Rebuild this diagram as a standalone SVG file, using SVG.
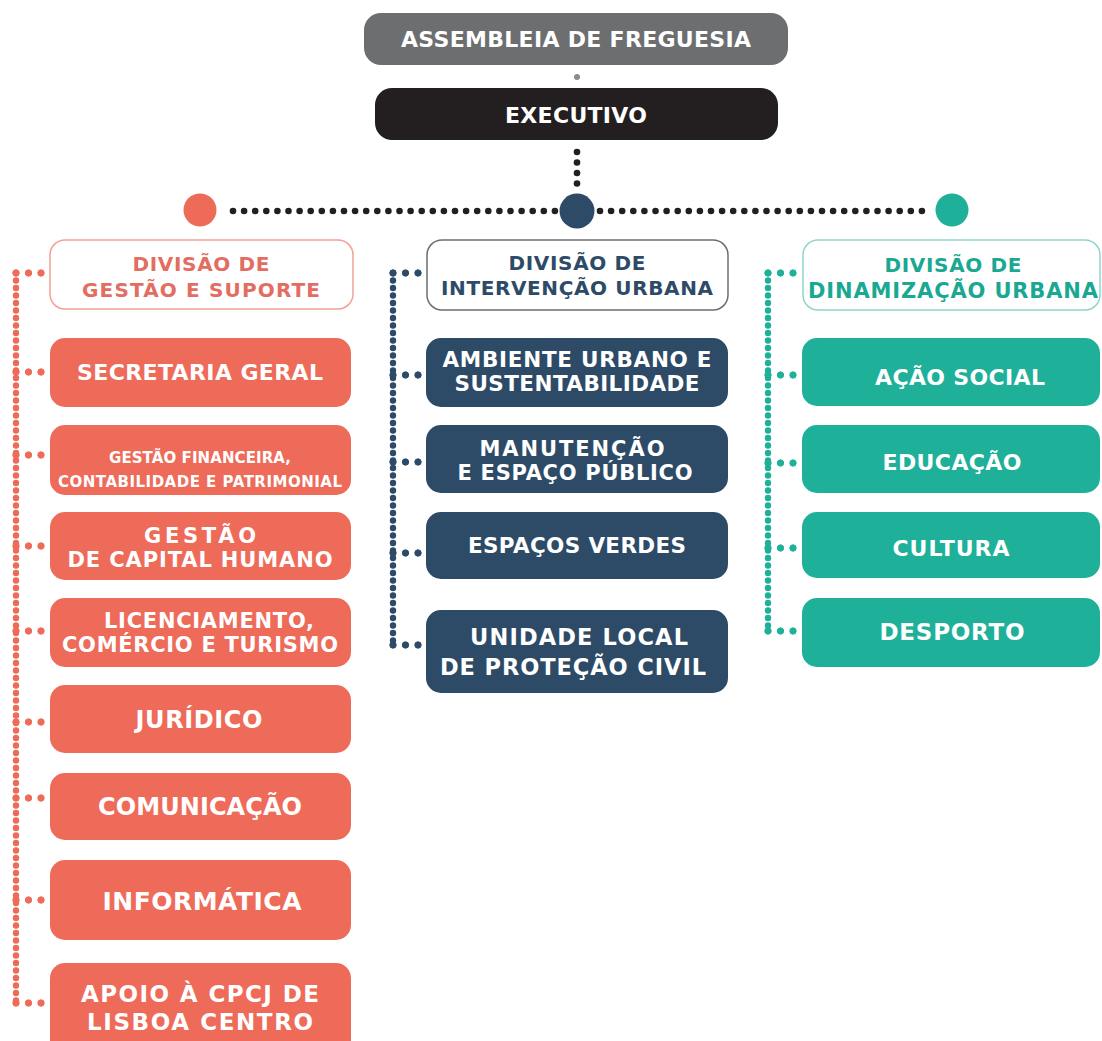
<svg xmlns="http://www.w3.org/2000/svg" width="1102" height="1041" viewBox="0 0 1102 1041">
<style>
text{font-family:"DejaVu Sans","Liberation Sans",Arial,sans-serif;font-weight:700;text-anchor:middle;}
.w{fill:#ffffff;}
.red{fill:#ee6b5a;}
.navy{fill:#2d4b67;}
.teal{fill:#1fb09a;}
.divred{fill:#ffffff;stroke:#f2a196;stroke-width:1.5;}
.divnavy{fill:#ffffff;stroke:#6a6f75;stroke-width:1.5;}
.divteal{fill:#ffffff;stroke:#8fd6ca;stroke-width:1.5;}
.tred{fill:#e26d60;}
.tnavy{fill:#2d4b67;}
.tteal{fill:#1aa892;}
.dv{fill:none;stroke-width:6.4;stroke-linecap:round;stroke-dasharray:0 7.5;}
.dk{fill:none;stroke:#231f20;stroke-width:6.6;stroke-linecap:round;stroke-dasharray:0 11.1;}
.cr{stroke:#ee6b5a;color:#ee6b5a;}
.cn{stroke:#2d4b67;color:#2d4b67;}
.ct{stroke:#1fb09a;color:#1fb09a;}
</style>
<defs>
  <g id="tri">
    <circle cx="0" cy="0" r="3.2" fill="currentColor"/>
    <circle cx="12.5" cy="0" r="3.2" fill="currentColor"/>
    <circle cx="25" cy="0" r="3.2" fill="currentColor"/>
  </g>
</defs>

<g id="connectors">
  <circle cx="577" cy="77" r="3" fill="#8a8b8d"/>
  <circle cx="577" cy="152" r="3.3" fill="#231f20"/>
  <circle cx="577" cy="162.5" r="3.3" fill="#231f20"/>
  <circle cx="577" cy="173" r="3.3" fill="#231f20"/>
  <circle cx="577" cy="183.5" r="3.3" fill="#231f20"/>
  <line class="dk" x1="233" y1="211" x2="556" y2="211"/>
  <line class="dk" x1="600" y1="211" x2="930" y2="211"/>
  <!-- left -->
  <line class="dv cr" x1="16" y1="273" x2="16" y2="1003"/>
  <g class="cr">
    <use href="#tri" x="16" y="273"/>
    <use href="#tri" x="16" y="372"/>
    <use href="#tri" x="16" y="455"/>
    <use href="#tri" x="16" y="546"/>
    <use href="#tri" x="16" y="631"/>
    <use href="#tri" x="16" y="722"/>
    <use href="#tri" x="16" y="798"/>
    <use href="#tri" x="16" y="900"/>
    <use href="#tri" x="16" y="1003"/>
  </g>
  <!-- middle -->
  <line class="dv cn" x1="393" y1="273" x2="393" y2="645"/>
  <g class="cn">
    <use href="#tri" x="393" y="273"/>
    <use href="#tri" x="393" y="375"/>
    <use href="#tri" x="393" y="462"/>
    <use href="#tri" x="393" y="553"/>
    <use href="#tri" x="393" y="645"/>
  </g>
  <!-- right -->
  <line class="dv ct" x1="768" y1="273" x2="768" y2="631"/>
  <g class="ct">
    <use href="#tri" x="768" y="273"/>
    <use href="#tri" x="768" y="375"/>
    <use href="#tri" x="768" y="463"/>
    <use href="#tri" x="768" y="548"/>
    <use href="#tri" x="768" y="631"/>
  </g>
</g>

<g id="assembleia">
  <rect x="364" y="13" width="424" height="52" rx="17" fill="#6d6e70"/>
  <text class="w" x="576" y="47" font-size="22" textLength="350">ASSEMBLEIA DE FREGUESIA</text>
</g>
<g id="executivo">
  <rect x="375" y="88" width="403" height="52" rx="17" fill="#231f20"/>
  <text class="w" x="576" y="123" font-size="22" textLength="142">EXECUTIVO</text>
</g>
<g id="hub-center"><circle cx="577" cy="211" r="17.5" fill="#2d4b67"/></g>
<g id="hub-left"><circle cx="200" cy="210" r="16.5" fill="#ee6b5a"/></g>
<g id="hub-right"><circle cx="952" cy="210" r="16.5" fill="#1fb09a"/></g>

<!-- LEFT COLUMN -->
<g id="div-gestao">
  <rect class="divred" x="50" y="240" width="303" height="69" rx="15"/>
  <text class="tred" x="201" y="271" font-size="20" textLength="137">DIVISÃO DE</text>
  <text class="tred" x="201" y="297" font-size="20" textLength="238">GESTÃO E SUPORTE</text>
</g>
<g id="secretaria">
  <rect class="red" x="50" y="338" width="301" height="69" rx="15"/>
  <text class="w" x="200" y="380" font-size="22" textLength="246">SECRETARIA GERAL</text>
</g>
<g id="financeira">
  <rect class="red" x="50" y="425" width="301" height="70" rx="15"/>
  <text class="w" x="200" y="463" font-size="15" textLength="182">GESTÃO FINANCEIRA,</text>
  <text class="w" x="200" y="487" font-size="15" textLength="284">CONTABILIDADE E PATRIMONIAL</text>
</g>
<g id="capital-humano">
  <rect class="red" x="50" y="512" width="301" height="68" rx="15"/>
  <text class="w" x="200" y="543" font-size="21" textLength="112">GESTÃO</text>
  <text class="w" x="200" y="567" font-size="21" textLength="265">DE CAPITAL HUMANO</text>
</g>
<g id="licenciamento">
  <rect class="red" x="50" y="598" width="301" height="69" rx="15"/>
  <text class="w" x="209" y="628" font-size="21" textLength="210">LICENCIAMENTO,</text>
  <text class="w" x="200" y="652" font-size="21" textLength="276">COMÉRCIO E TURISMO</text>
</g>
<g id="juridico">
  <rect class="red" x="50" y="685" width="301" height="68" rx="15"/>
  <text class="w" x="199" y="728" font-size="24" textLength="127">JURÍDICO</text>
</g>
<g id="comunicacao">
  <rect class="red" x="50" y="773" width="301" height="67" rx="15"/>
  <text class="w" x="200" y="815" font-size="24" textLength="204">COMUNICAÇÃO</text>
</g>
<g id="informatica">
  <rect class="red" x="50" y="860" width="301" height="80" rx="15"/>
  <text class="w" x="202" y="910" font-size="25" textLength="199">INFORMÁTICA</text>
</g>
<g id="apoio-cpcj">
  <rect class="red" x="50" y="963" width="301" height="95" rx="15"/>
  <text class="w" x="200" y="1002" font-size="23" textLength="238">APOIO  À CPCJ DE</text>
  <text class="w" x="200" y="1030" font-size="23" textLength="226">LISBOA CENTRO</text>
</g>

<!-- MIDDLE COLUMN -->
<g id="div-intervencao">
  <rect class="divnavy" x="427" y="240" width="301" height="70" rx="15"/>
  <text class="tnavy" x="577" y="270" font-size="20" textLength="137">DIVISÃO DE</text>
  <text class="tnavy" x="577" y="295" font-size="20" textLength="272">INTERVENÇÃO URBANA</text>
</g>
<g id="ambiente">
  <rect class="navy" x="426" y="338" width="302" height="69" rx="15"/>
  <text class="w" x="577" y="367" font-size="21.5" textLength="269">AMBIENTE URBANO E</text>
  <text class="w" x="577" y="391" font-size="21.5" textLength="245">SUSTENTABILIDADE</text>
</g>
<g id="manutencao">
  <rect class="navy" x="426" y="425" width="302" height="68" rx="15"/>
  <text class="w" x="572" y="456" font-size="21" textLength="185">MANUTENÇÃO</text>
  <text class="w" x="575" y="480" font-size="21" textLength="235">E ESPAÇO PÚBLICO</text>
</g>
<g id="espacos-verdes">
  <rect class="navy" x="426" y="512" width="302" height="67" rx="15"/>
  <text class="w" x="577" y="553" font-size="21.5" textLength="218">ESPAÇOS VERDES</text>
</g>
<g id="protecao-civil">
  <rect class="navy" x="426" y="610" width="302" height="83" rx="15"/>
  <text class="w" x="579" y="645" font-size="22.5" textLength="218">UNIDADE  LOCAL</text>
  <text class="w" x="573" y="675" font-size="22.5" textLength="266">DE PROTEÇÃO CIVIL</text>
</g>

<!-- RIGHT COLUMN -->
<g id="div-dinamizacao">
  <rect class="divteal" x="803" y="240" width="297" height="70" rx="15"/>
  <text class="tteal" x="953" y="272" font-size="20" textLength="137">DIVISÃO DE</text>
  <text class="tteal" x="953" y="298" font-size="21" textLength="290">DINAMIZAÇÃO URBANA</text>
</g>
<g id="acao-social">
  <rect class="teal" x="802" y="338" width="298" height="68" rx="15"/>
  <text class="w" x="960" y="385" font-size="22" textLength="170">AÇÃO SOCIAL</text>
</g>
<g id="educacao">
  <rect class="teal" x="802" y="425" width="298" height="68" rx="15"/>
  <text class="w" x="952" y="470" font-size="22" textLength="139">EDUCAÇÃO</text>
</g>
<g id="cultura">
  <rect class="teal" x="802" y="512" width="298" height="66" rx="15"/>
  <text class="w" x="951" y="556" font-size="22" textLength="117">CULTURA</text>
</g>
<g id="desporto">
  <rect class="teal" x="802" y="598" width="298" height="69" rx="15"/>
  <text class="w" x="952" y="640" font-size="23" textLength="145">DESPORTO</text>
</g>
</svg>
